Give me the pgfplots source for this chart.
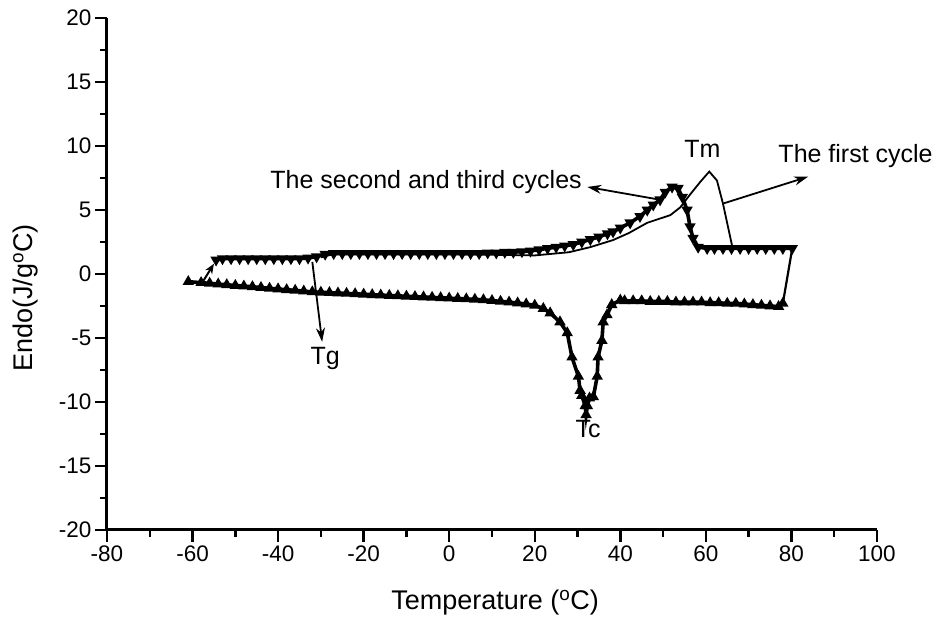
\documentclass[border=0pt]{standalone}
\usepackage{fontspec}
\setmainfont{Liberation Sans}
\usepackage{pgfplots}
\pgfplotsset{compat=1.18}
\usetikzlibrary{arrows.meta}

\newcommand{\annfont}{\fontsize{25}{30}\selectfont}

\begin{document}
\begin{tikzpicture}
\begin{axis}[
    scale only axis,
    width=770pt, height=512pt,
    xmin=-80, xmax=100, ymin=-20, ymax=20,
    axis x line=bottom, axis y line=left,
    axis line style={-, line width=3pt},
    every outer x axis line/.append style={-},
    every outer y axis line/.append style={-},
    xtick distance=20, ytick distance=5,
    minor x tick num=1, minor y tick num=1,
    tick align=outside,
    major tick length=12pt, minor tick length=7pt,
    tick style={line width=2.4pt, black},
    ticklabel style={font=\fontsize{22.5}{26}\selectfont},
    /pgf/number format/assume math mode=true,
    xlabel={Temperature (\textsuperscript{o}C)},
    ylabel={Endo(J/g\textsuperscript{o}C)},
    label style={font=\fontsize{27}{32}\selectfont},
    xlabel style={at={(axis description cs:0.504,-0.141)}, anchor=center},
    ylabel style={at={(axis description cs:-0.106,0.453)}, anchor=center},
    clip=false,
]

% cooling branch (up triangles)
\addplot[black, line width=3.6pt, mark=triangle*, mark size=3pt, mark options={solid}]
  coordinates {
    (78,-2.3) (77,-2.55) (75,-2.5) (73,-2.45) (71,-2.4) (69,-2.35) (67,-2.3)
    (65,-2.3) (63,-2.25) (61,-2.25) (59,-2.2) (57,-2.2) (55,-2.2) (53,-2.2)
    (51,-2.15) (49,-2.15) (47,-2.15) (45,-2.1) (43,-2.1) (41,-2.1) (40,-2.05)
    (38,-2.4) (36.9,-3.2) (36,-3.75) (35.7,-5.2) (34.8,-6.5) (34.6,-8)
    (33.7,-9.6) (32.8,-9.7) (32.3,-10.3) (32,-11) (31.8,-10.3) (31,-9.5)
    (30.6,-9.1) (30.2,-8) (28.7,-6.5) (27.6,-4.6) (25.9,-3.75) (23.6,-3.05)
    (22,-2.7) (20,-2.45) (18,-2.35) (16,-2.27) (14,-2.2) (12,-2.14) (10,-2.08)
    (8,-2.02) (6,-1.98) (4,-1.95) (2,-1.92) (0,-1.89) (-2,-1.86) (-4,-1.83)
    (-6,-1.8) (-8,-1.77) (-10,-1.74) (-12,-1.71) (-14,-1.68) (-16,-1.65)
    (-18,-1.62) (-20,-1.58) (-22,-1.55) (-24,-1.52) (-26,-1.49) (-28,-1.46)
    (-30,-1.43) (-32,-1.4) (-34,-1.34) (-36,-1.28) (-38,-1.23) (-40,-1.17)
    (-42,-1.12) (-44,-1.06) (-46,-1.0) (-48,-0.95) (-50,-0.9) (-52,-0.84)
    (-54,-0.79) (-56,-0.73) (-58,-0.68) (-61,-0.6)
  };

% glass transition jump
\addplot[black, line width=2pt, -{Stealth[length=10pt,width=8pt]}]
  coordinates {(-57.5,-0.55) (-55,0.8)};

% second and third cycles (down triangles)
\addplot[black, line width=3.6pt, mark=triangle*, mark size=3pt, mark options={solid, rotate=180}]
  coordinates {
    (-54.5,1.1) (-53,1.2) (-51,1.2) (-49,1.2) (-47,1.2) (-45,1.2) (-43,1.2)
    (-41,1.2) (-39,1.2) (-37,1.2) (-35,1.2) (-33,1.25) (-31,1.35) (-29,1.55)
    (-27,1.6) (-25,1.6) (-23,1.6) (-21,1.6) (-19,1.6) (-17,1.6) (-15,1.6)
    (-13,1.6) (-11,1.6) (-9,1.6) (-7,1.6) (-5,1.6) (-3,1.6) (-1,1.6) (1,1.6)
    (3,1.6) (5,1.6) (7,1.6) (9,1.65) (11,1.65) (13,1.7) (15,1.7) (17,1.75)
    (19,1.8) (21,1.9) (23,2.0) (25,2.1) (27,2.2) (29,2.3) (31,2.5) (33,2.7)
    (35,2.9) (37,3.15) (38.3,3.3) (40,3.6) (42.3,4.0) (44.6,4.5) (46.3,5.0)
    (47.7,5.4) (49.3,5.8) (50.5,6.4) (52.1,6.8) (53.5,6.7) (54.5,6.0)
    (55.6,5.0) (56.3,3.7) (57,2.8) (58.2,2.1) (60.3,2.0) (62,2.0) (64,2.0)
    (66,2.0) (68,2.0) (70,2.0) (72,2.0) (74,2.0) (76,2.0) (78,2.0) (80.2,2.0)
  };

% return from 80 C to the cooling branch
\addplot[black, line width=2.2pt] coordinates {(80.2,2.0) (78,-2.3)};

% the first cycle (plain line)
\addplot[black, line width=1.8pt]
  coordinates {
    (-30,1.3) (-27,1.55) (-10,1.55) (0,1.55) (10,1.5) (20,1.45) (28,1.7)
    (33,2.1) (38.3,2.65) (42,3.2) (46.3,4.0) (51.7,4.6) (54,5.2) (56.3,6.2)
    (58.7,7.2) (60.8,8.0) (62.6,7.3) (64,5.5) (66.2,2.1) (70,2.0)
  };

% annotations
\draw[line width=1.8pt, -{Stealth[length=14pt,width=9pt]}] (axis cs:64,5.5) -- (axis cs:83.9,7.6);
\draw[line width=1.8pt, -{Stealth[length=14pt,width=9pt]}] (axis cs:49.3,5.8) -- (axis cs:32.3,6.8);
\draw[line width=1.8pt, -{Stealth[length=14pt,width=9pt]}] (axis cs:-32,0.94) -- (axis cs:-29.7,-5.3);

\node[font=\annfont] at (axis cs:95,9.2) {The first cycle};
\node[font=\annfont] at (axis cs:-5.4,7.2) {The second and third cycles};
\node[font=\annfont] at (axis cs:59.2,9.8) {Tm};
\node[font=\annfont] at (axis cs:-29,-6.6) {Tg};
\node[font=\annfont] at (axis cs:32.5,-12.1) {Tc};
\end{axis}
\path ([shift={(-107pt,-91pt)}]current axis.south west) rectangle ([shift={(59pt,18pt)}]current axis.north east);
\end{tikzpicture}
\end{document}
